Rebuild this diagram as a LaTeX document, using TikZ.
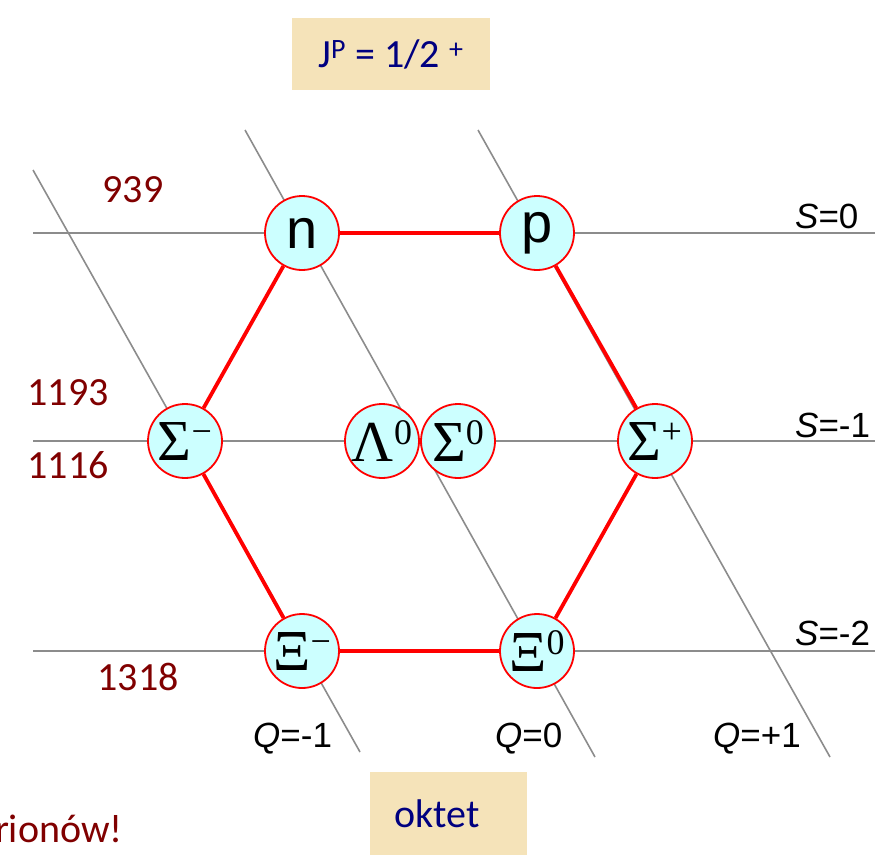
\documentclass[tikz,border=0pt]{standalone}
\usepackage{fontspec}
\setmainfont{Carlito}
\newfontfamily\arialf{Liberation Sans}
\newfontfamily\greekf{Liberation Serif}
\definecolor{massred}{HTML}{800000}
\definecolor{navytext}{HTML}{000080}
\definecolor{boxfill}{HTML}{F5E3B9}
\definecolor{cellfill}{HTML}{CCFFFF}
\definecolor{gridgray}{HTML}{8C8C8C}
\newcommand{\bary}[2]{{\greekf\fontsize{58}{60}\selectfont #1\raisebox{17pt}{\fontsize{36}{38}\selectfont #2}}}
\tikzset{
  particle/.style={circle, draw=red, line width=1.8pt, fill=cellfill, minimum size=74pt, inner sep=0pt, text=black},
  gridline/.style={draw=gridgray, line width=1.6pt},
  hexedge/.style={draw=red, line width=3.8pt},
  masslabel/.style={text=massred, font=\fontsize{40}{44}\selectfont, inner sep=0pt},
  axislabel/.style={font=\arialf\fontsize{35}{38}\selectfont, inner sep=0pt, anchor=base west},
  titlebox/.style={fill=boxfill, text=navytext, inner sep=0pt}
}
\begin{document}
\begin{tikzpicture}[x=1pt,y=-1pt]
\useasboundingbox (0,0) rectangle (885,855);
% grid coordinates
\coordinate (h0a) at (33,233);  \coordinate (h0b) at (875,233);
\coordinate (h1a) at (33,441);  \coordinate (h1b) at (875,441);
\coordinate (h2a) at (33,651);  \coordinate (h2b) at (875,651);
\coordinate (qma) at (33,170);  \coordinate (qmb) at (360,752);
\coordinate (q0a) at (245,130); \coordinate (q0b) at (595,757);
\coordinate (qpa) at (478,130); \coordinate (qpb) at (830,757);
\draw[gridline] (h0a) -- (h0b);
\draw[gridline] (h1a) -- (h1b);
\draw[gridline] (h2a) -- (h2b);
\draw[gridline] (qma) -- (qmb);
\draw[gridline] (q0a) -- (q0b);
\draw[gridline] (qpa) -- (qpb);
% title boxes
\node[titlebox, minimum width=198pt, minimum height=72pt] (jp) at (391,54)
  {\fontsize{40}{44}\selectfont J\textsuperscript{P} = 1/2 \textsuperscript{+}};
\node[titlebox, minimum width=157pt, minimum height=83pt] (ok) at (448.5,813.5) {};
\node[text=navytext, font=\fontsize{40}{44}\selectfont, inner sep=0pt] (oktxt) at (437,814) {oktet};
% particles
\node[particle] (n) at (302,233) {\arialf\fontsize{56}{58}\selectfont n};
\node[particle] (p) at (537,233) {\arialf\fontsize{56}{58}\selectfont p};
\node[particle] (sm) at (185,441) {\bary{Σ}{−}};
\node[particle] (l0) at (382,441) {\bary{Λ}{0}};
\node[particle] (s0) at (458,441) {\bary{Σ}{0}};
\node[particle] (sp) at (655,441) {\bary{Σ}{+}};
\node[particle] (xm) at (302,651) {\bary{Ξ}{−}};
\node[particle] (x0) at (537,651) {\bary{Ξ}{0}};
% hexagon
\draw[hexedge] (n) -- (p);
\draw[hexedge] (p) -- (sp);
\draw[hexedge] (sp) -- (x0);
\draw[hexedge] (x0) -- (xm);
\draw[hexedge] (xm) -- (sm);
\draw[hexedge] (sm) -- (n);
% mass labels
\node[masslabel] (m939) at (133,190) {939};
\node[masslabel] (m1193) at (68,393) {1193};
\node[masslabel] (m1116) at (68,465) {1116};
\node[masslabel] (m1318) at (138,677) {1318};
% axis labels
\node[axislabel] (s0l) at (795,228) {\textit{S}=0};
\node[axislabel] (s1l) at (795,437) {\textit{S}=-1};
\node[axislabel] (s2l) at (795,645) {\textit{S}=-2};
\node[axislabel] (qml) at (253,747) {\textit{Q}=-1};
\node[axislabel] (q0l) at (495,747) {\textit{Q}=0};
\node[axislabel] (qpl) at (713,747) {\textit{Q}=+1};
% cut-off footer text
\node[text=massred, font=\fontsize{40}{44}\selectfont, inner sep=0pt, anchor=base east] (foot) at (123,842) {rionów!};
\end{tikzpicture}
\end{document}
